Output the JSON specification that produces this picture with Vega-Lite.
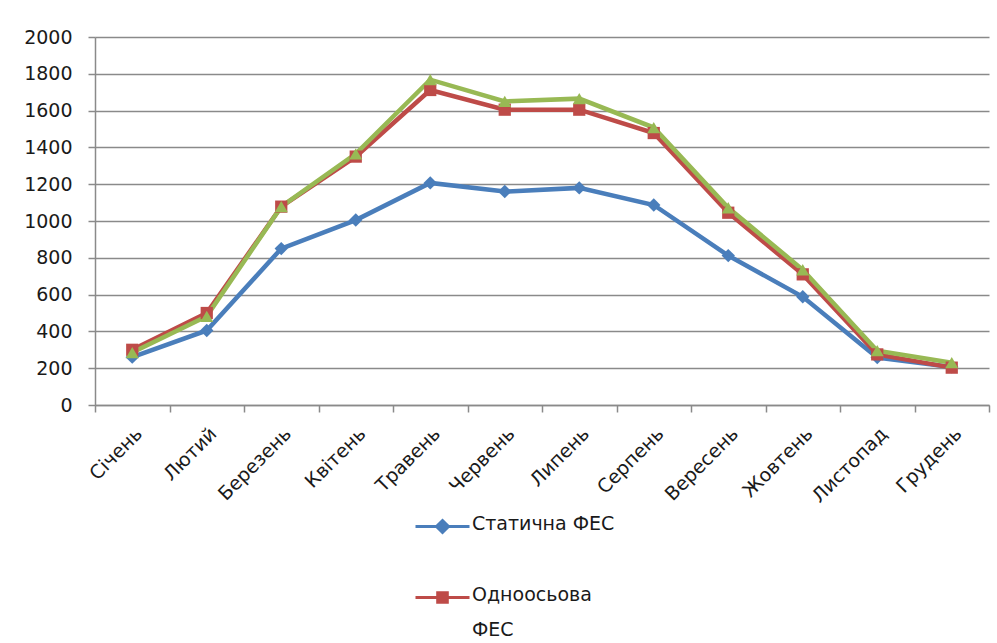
{
  "$schema": "https://vega.github.io/schema/vega-lite/v6.json",
  "width": 894,
  "height": 368,
  "autosize": {"type": "none"},
  "padding": {"left": 95, "top": 37, "right": 8, "bottom": 238},
  "background": "#ffffff",
  "config": {
    "font": "DejaVu Sans",
    "view": {"stroke": null},
    "axis": {
      "labelColor": "#1a1a1a",
      "labelFont": "DejaVu Sans",
      "domainColor": "#8a8a8a",
      "domainWidth": 1.5,
      "tickColor": "#8a8a8a",
      "tickWidth": 1.5,
      "gridColor": "#8a8a8a",
      "gridWidth": 1.5,
      "title": null
    }
  },
  "data": {
    "values": [
      {"month": "Січень", "series": "Статична ФЕС", "value": 260},
      {"month": "Лютий", "series": "Статична ФЕС", "value": 405},
      {"month": "Березень", "series": "Статична ФЕС", "value": 850},
      {"month": "Квітень", "series": "Статична ФЕС", "value": 1005},
      {"month": "Травень", "series": "Статична ФЕС", "value": 1207},
      {"month": "Червень", "series": "Статична ФЕС", "value": 1160},
      {"month": "Липень", "series": "Статична ФЕС", "value": 1180},
      {"month": "Серпень", "series": "Статична ФЕС", "value": 1087},
      {"month": "Вересень", "series": "Статична ФЕС", "value": 812},
      {"month": "Жовтень", "series": "Статична ФЕС", "value": 588},
      {"month": "Листопад", "series": "Статична ФЕС", "value": 258},
      {"month": "Грудень", "series": "Статична ФЕС", "value": 207},
      {"month": "Січень", "series": "Одноосьова ФЕС", "value": 300},
      {"month": "Лютий", "series": "Одноосьова ФЕС", "value": 500},
      {"month": "Березень", "series": "Одноосьова ФЕС", "value": 1078},
      {"month": "Квітень", "series": "Одноосьова ФЕС", "value": 1350},
      {"month": "Травень", "series": "Одноосьова ФЕС", "value": 1712},
      {"month": "Червень", "series": "Одноосьова ФЕС", "value": 1605},
      {"month": "Липень", "series": "Одноосьова ФЕС", "value": 1605},
      {"month": "Серпень", "series": "Одноосьова ФЕС", "value": 1478},
      {"month": "Вересень", "series": "Одноосьова ФЕС", "value": 1045},
      {"month": "Жовтень", "series": "Одноосьова ФЕС", "value": 710},
      {"month": "Листопад", "series": "Одноосьова ФЕС", "value": 275},
      {"month": "Грудень", "series": "Одноосьова ФЕС", "value": 203},
      {"month": "Січень", "series": "Двоосьова ФЕС", "value": 285},
      {"month": "Лютий", "series": "Двоосьова ФЕС", "value": 482},
      {"month": "Березень", "series": "Двоосьова ФЕС", "value": 1078},
      {"month": "Квітень", "series": "Двоосьова ФЕС", "value": 1365},
      {"month": "Травень", "series": "Двоосьова ФЕС", "value": 1768},
      {"month": "Червень", "series": "Двоосьова ФЕС", "value": 1650},
      {"month": "Липень", "series": "Двоосьова ФЕС", "value": 1665},
      {"month": "Серпень", "series": "Двоосьова ФЕС", "value": 1508},
      {"month": "Вересень", "series": "Двоосьова ФЕС", "value": 1072},
      {"month": "Жовтень", "series": "Двоосьова ФЕС", "value": 735},
      {"month": "Листопад", "series": "Двоосьова ФЕС", "value": 295},
      {"month": "Грудень", "series": "Двоосьова ФЕС", "value": 230}
    ]
  },
  "encoding": {
    "x": {
      "field": "month",
      "type": "nominal",
      "sort": ["Січень", "Лютий", "Березень", "Квітень", "Травень", "Червень", "Липень", "Серпень", "Вересень", "Жовтень", "Листопад", "Грудень"],
      "scale": {"type": "band", "paddingInner": 0, "paddingOuter": 0},
      "bandPosition": 0.5,
      "axis": {
        "labelAngle": -45,
        "labelAlign": "right",
        "labelBaseline": "top",
        "labelFontSize": 19,
        "labelPadding": 12,
        "tickBand": "extent",
        "tickSize": 7,
        "grid": false
      }
    },
    "y": {
      "field": "value",
      "type": "quantitative",
      "scale": {"domain": [0, 2000], "nice": false},
      "axis": {
        "values": [0, 200, 400, 600, 800, 1000, 1200, 1400, 1600, 1800, 2000],
        "format": "d",
        "grid": true,
        "tickSize": 7,
        "labelFontSize": 19,
        "labelPadding": 16
      }
    },
    "color": {
      "field": "series",
      "type": "nominal",
      "scale": {
        "domain": ["Статична ФЕС", "Одноосьова ФЕС", "Двоосьова ФЕС"],
        "range": ["#4a7ebb", "#be4b48", "#98b954"]
      },
      "legend": {
        "title": null,
        "orient": "none",
        "legendX": 338,
        "legendY": 480,
        "direction": "vertical",
        "symbolSize": 144,
        "symbolStrokeWidth": 3,
        "labelFontSize": 19,
        "labelColor": "#1a1a1a",
        "labelOffset": 20,
        "labelBaseline": "top",
        "labelExpr": "datum.label == 'Одноосьова ФЕС' ? ['Одноосьова', 'ФЕС'] : datum.label",
        "rowPadding": 46,
        "encode": {
          "labels": {"update": {"dy": {"value": -12}, "lineHeight": {"value": 35}}},
          "symbols": {
            "update": {
              "shape": {"signal": "datum.value == 'Статична ФЕС' ? 'M-4.5,0H4.5M0,-1L1,0L0,1L-1,0Z' : datum.value == 'Одноосьова ФЕС' ? 'M-4.5,0H4.5M-0.8,-0.8H0.8V0.8H-0.8Z' : 'M-4.5,0H4.5M0,-1L1,0.9L-1,0.9Z'"},
              "fill": {"scale": "color", "field": "value"},
              "fillOpacity": {"value": 1},
              "stroke": {"scale": "color", "field": "value"},
              "strokeWidth": {"value": 3},
              "opacity": {"value": 1}
            }
          }
        }
      }
    }
  },
  "layer": [
    {
      "mark": {"type": "line", "strokeWidth": 4.5}
    },
    {
      "transform": [{"filter": "datum.series == 'Статична ФЕС'"}],
      "mark": {"type": "point", "shape": "diamond", "filled": true, "opacity": 1, "size": 180}
    },
    {
      "transform": [{"filter": "datum.series == 'Одноосьова ФЕС'"}],
      "mark": {"type": "point", "shape": "square", "filled": true, "opacity": 1, "size": 150}
    },
    {
      "transform": [{"filter": "datum.series == 'Двоосьова ФЕС'"}],
      "mark": {"type": "point", "shape": "triangle-up", "filled": true, "opacity": 1, "size": 170}
    }
  ]
}
